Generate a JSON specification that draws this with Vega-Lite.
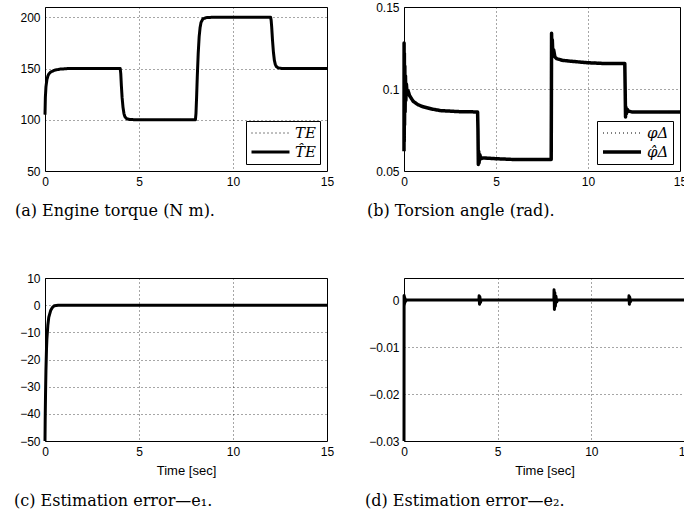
{
  "$schema": "https://vega.github.io/schema/vega-lite/v6.json",
  "padding": {"left": 13, "top": 0, "right": 0, "bottom": 0},
  "background": "white",
  "bounds": "flush",
  "columns": 2,
  "spacing": {"column": 77, "row": 107},
  "resolve": {
    "scale": {"strokeDash": "independent", "strokeWidth": "independent"},
    "legend": {"strokeDash": "independent", "strokeWidth": "independent"}
  },
  "config": {
    "view": {"stroke": "black", "strokeWidth": 1},
    "axis": {
      "grid": true, "gridColor": "#000", "gridDash": [1, 3], "gridOpacity": 0.7, "gridWidth": 1,
      "domain": false, "ticks": false, "labelFlush": false,
      "labelFont": "Liberation Sans", "labelFontSize": 12, "labelColor": "black",
      "titleFont": "Liberation Sans", "titleFontSize": 13, "titleFontWeight": "normal", "titleColor": "black"
    },
    "axisX": {"labelPadding": 5, "titlePadding": 7},
    "axisY": {"labelPadding": 5},
    "title": {"font": "DejaVu Serif", "fontSize": 16, "fontWeight": "normal", "color": "black", "orient": "bottom", "anchor": "start", "frame": "group"},
    "legend": {
      "orient": "bottom-right", "offset": 7, "title": null,
      "strokeColor": "black", "fillColor": "white", "padding": 4, "rowPadding": 3, "clipHeight": 16,
      "symbolType": "stroke", "symbolSize": 1444, "symbolStrokeColor": "black",
      "labelFont": "DejaVu Serif", "labelFontStyle": "italic", "labelFontSize": 15, "labelColor": "black"
    }
  },
  "datasets": {
    "torque": [
      {"t": 0, "v": 105, "s": "TE"}, {"t": 0.02, "v": 122, "s": "TE"}, {"t": 0.05, "v": 132, "s": "TE"}, {"t": 0.1, "v": 139, "s": "TE"}, {"t": 0.15, "v": 142.5, "s": "TE"}, {"t": 0.2, "v": 144.5, "s": "TE"}, {"t": 0.3, "v": 146.5, "s": "TE"}, {"t": 0.5, "v": 148.3, "s": "TE"}, {"t": 0.8, "v": 149.4, "s": "TE"}, {"t": 1.2, "v": 149.9, "s": "TE"}, {"t": 2, "v": 150, "s": "TE"}, {"t": 4, "v": 150, "s": "TE"}, {"t": 4.03, "v": 145, "s": "TE"}, {"t": 4.06, "v": 134, "s": "TE"}, {"t": 4.1, "v": 122, "s": "TE"}, {"t": 4.15, "v": 112, "s": "TE"}, {"t": 4.2, "v": 106, "s": "TE"}, {"t": 4.25, "v": 103, "s": "TE"}, {"t": 4.35, "v": 101, "s": "TE"}, {"t": 4.5, "v": 100.2, "s": "TE"}, {"t": 5, "v": 100, "s": "TE"}, {"t": 8, "v": 100, "s": "TE"}, {"t": 8.03, "v": 106, "s": "TE"}, {"t": 8.06, "v": 120, "s": "TE"}, {"t": 8.1, "v": 142, "s": "TE"}, {"t": 8.15, "v": 165, "s": "TE"}, {"t": 8.2, "v": 181, "s": "TE"}, {"t": 8.25, "v": 190, "s": "TE"}, {"t": 8.3, "v": 195, "s": "TE"}, {"t": 8.4, "v": 198.5, "s": "TE"}, {"t": 8.6, "v": 199.7, "s": "TE"}, {"t": 9, "v": 200, "s": "TE"}, {"t": 12, "v": 200, "s": "TE"}, {"t": 12.03, "v": 197, "s": "TE"}, {"t": 12.06, "v": 190, "s": "TE"}, {"t": 12.1, "v": 178, "s": "TE"}, {"t": 12.15, "v": 166, "s": "TE"}, {"t": 12.2, "v": 158, "s": "TE"}, {"t": 12.25, "v": 154, "s": "TE"}, {"t": 12.3, "v": 152, "s": "TE"}, {"t": 12.4, "v": 150.6, "s": "TE"}, {"t": 12.6, "v": 150, "s": "TE"}, {"t": 15, "v": 150, "s": "TE"},
      {"t": 0, "v": 105, "s": "T\u0302E"}, {"t": 0.02, "v": 122, "s": "T\u0302E"}, {"t": 0.05, "v": 132, "s": "T\u0302E"}, {"t": 0.1, "v": 139, "s": "T\u0302E"}, {"t": 0.15, "v": 142.5, "s": "T\u0302E"}, {"t": 0.2, "v": 144.5, "s": "T\u0302E"}, {"t": 0.3, "v": 146.5, "s": "T\u0302E"}, {"t": 0.5, "v": 148.3, "s": "T\u0302E"}, {"t": 0.8, "v": 149.4, "s": "T\u0302E"}, {"t": 1.2, "v": 149.9, "s": "T\u0302E"}, {"t": 2, "v": 150, "s": "T\u0302E"}, {"t": 4, "v": 150, "s": "T\u0302E"}, {"t": 4.03, "v": 145, "s": "T\u0302E"}, {"t": 4.06, "v": 134, "s": "T\u0302E"}, {"t": 4.1, "v": 122, "s": "T\u0302E"}, {"t": 4.15, "v": 112, "s": "T\u0302E"}, {"t": 4.2, "v": 106, "s": "T\u0302E"}, {"t": 4.25, "v": 103, "s": "T\u0302E"}, {"t": 4.35, "v": 101, "s": "T\u0302E"}, {"t": 4.5, "v": 100.2, "s": "T\u0302E"}, {"t": 5, "v": 100, "s": "T\u0302E"}, {"t": 8, "v": 100, "s": "T\u0302E"}, {"t": 8.03, "v": 106, "s": "T\u0302E"}, {"t": 8.06, "v": 120, "s": "T\u0302E"}, {"t": 8.1, "v": 142, "s": "T\u0302E"}, {"t": 8.15, "v": 165, "s": "T\u0302E"}, {"t": 8.2, "v": 181, "s": "T\u0302E"}, {"t": 8.25, "v": 190, "s": "T\u0302E"}, {"t": 8.3, "v": 195, "s": "T\u0302E"}, {"t": 8.4, "v": 198.5, "s": "T\u0302E"}, {"t": 8.6, "v": 199.7, "s": "T\u0302E"}, {"t": 9, "v": 200, "s": "T\u0302E"}, {"t": 12, "v": 200, "s": "T\u0302E"}, {"t": 12.03, "v": 197, "s": "T\u0302E"}, {"t": 12.06, "v": 190, "s": "T\u0302E"}, {"t": 12.1, "v": 178, "s": "T\u0302E"}, {"t": 12.15, "v": 166, "s": "T\u0302E"}, {"t": 12.2, "v": 158, "s": "T\u0302E"}, {"t": 12.25, "v": 154, "s": "T\u0302E"}, {"t": 12.3, "v": 152, "s": "T\u0302E"}, {"t": 12.4, "v": 150.6, "s": "T\u0302E"}, {"t": 12.6, "v": 150, "s": "T\u0302E"}, {"t": 15, "v": 150, "s": "T\u0302E"}
    ],
    "torsion": [
      {"t": 0, "v": 0.09, "s": "φΔ"}, {"t": 0.1, "v": 0.1, "s": "φΔ"}, {"t": 0.2, "v": 0.098, "s": "φΔ"}, {"t": 0.3, "v": 0.096, "s": "φΔ"}, {"t": 0.5, "v": 0.0925, "s": "φΔ"}, {"t": 0.75, "v": 0.0905, "s": "φΔ"}, {"t": 1, "v": 0.0893, "s": "φΔ"}, {"t": 1.5, "v": 0.0878, "s": "φΔ"}, {"t": 2, "v": 0.0868, "s": "φΔ"}, {"t": 3, "v": 0.0862, "s": "φΔ"}, {"t": 4, "v": 0.086, "s": "φΔ"}, {"t": 4.04, "v": 0.057, "s": "φΔ"}, {"t": 8, "v": 0.057, "s": "φΔ"}, {"t": 8.03, "v": 0.12, "s": "φΔ"}, {"t": 8.3, "v": 0.1185, "s": "φΔ"}, {"t": 9, "v": 0.117, "s": "φΔ"}, {"t": 12, "v": 0.1155, "s": "φΔ"}, {"t": 12.04, "v": 0.086, "s": "φΔ"}, {"t": 15, "v": 0.086, "s": "φΔ"},
      {"t": 0, "v": 0.062, "s": "φ\u0302Δ"}, {"t": 0.005, "v": 0.128, "s": "φ\u0302Δ"}, {"t": 0.012, "v": 0.068, "s": "φ\u0302Δ"}, {"t": 0.02, "v": 0.122, "s": "φ\u0302Δ"}, {"t": 0.03, "v": 0.078, "s": "φ\u0302Δ"}, {"t": 0.045, "v": 0.114, "s": "φ\u0302Δ"}, {"t": 0.06, "v": 0.086, "s": "φ\u0302Δ"}, {"t": 0.08, "v": 0.108, "s": "φ\u0302Δ"}, {"t": 0.1, "v": 0.093, "s": "φ\u0302Δ"}, {"t": 0.13, "v": 0.103, "s": "φ\u0302Δ"}, {"t": 0.17, "v": 0.097, "s": "φ\u0302Δ"}, {"t": 0.22, "v": 0.099, "s": "φ\u0302Δ"}, {"t": 0.3, "v": 0.096, "s": "φ\u0302Δ"}, {"t": 0.5, "v": 0.0925, "s": "φ\u0302Δ"}, {"t": 0.75, "v": 0.0905, "s": "φ\u0302Δ"}, {"t": 1, "v": 0.0893, "s": "φ\u0302Δ"}, {"t": 1.5, "v": 0.0878, "s": "φ\u0302Δ"}, {"t": 2, "v": 0.0868, "s": "φ\u0302Δ"}, {"t": 3, "v": 0.0862, "s": "φ\u0302Δ"}, {"t": 4, "v": 0.086, "s": "φ\u0302Δ"}, {"t": 4.02, "v": 0.075, "s": "φ\u0302Δ"}, {"t": 4.04, "v": 0.054, "s": "φ\u0302Δ"}, {"t": 4.06, "v": 0.062, "s": "φ\u0302Δ"}, {"t": 4.08, "v": 0.055, "s": "φ\u0302Δ"}, {"t": 4.12, "v": 0.06, "s": "φ\u0302Δ"}, {"t": 4.18, "v": 0.0575, "s": "φ\u0302Δ"}, {"t": 4.3, "v": 0.058, "s": "φ\u0302Δ"}, {"t": 5, "v": 0.0575, "s": "φ\u0302Δ"}, {"t": 6, "v": 0.057, "s": "φ\u0302Δ"}, {"t": 8, "v": 0.057, "s": "φ\u0302Δ"}, {"t": 8.01, "v": 0.09, "s": "φ\u0302Δ"}, {"t": 8.02, "v": 0.134, "s": "φ\u0302Δ"}, {"t": 8.04, "v": 0.12, "s": "φ\u0302Δ"}, {"t": 8.06, "v": 0.13, "s": "φ\u0302Δ"}, {"t": 8.09, "v": 0.121, "s": "φ\u0302Δ"}, {"t": 8.13, "v": 0.124, "s": "φ\u0302Δ"}, {"t": 8.2, "v": 0.1195, "s": "φ\u0302Δ"}, {"t": 8.3, "v": 0.1185, "s": "φ\u0302Δ"}, {"t": 8.6, "v": 0.1175, "s": "φ\u0302Δ"}, {"t": 9, "v": 0.117, "s": "φ\u0302Δ"}, {"t": 10, "v": 0.116, "s": "φ\u0302Δ"}, {"t": 11, "v": 0.1155, "s": "φ\u0302Δ"}, {"t": 12, "v": 0.1155, "s": "φ\u0302Δ"}, {"t": 12.02, "v": 0.1, "s": "φ\u0302Δ"}, {"t": 12.04, "v": 0.083, "s": "φ\u0302Δ"}, {"t": 12.06, "v": 0.089, "s": "φ\u0302Δ"}, {"t": 12.09, "v": 0.085, "s": "φ\u0302Δ"}, {"t": 12.14, "v": 0.0875, "s": "φ\u0302Δ"}, {"t": 12.2, "v": 0.0865, "s": "φ\u0302Δ"}, {"t": 12.4, "v": 0.086, "s": "φ\u0302Δ"}, {"t": 15, "v": 0.086, "s": "φ\u0302Δ"}
    ],
    "e1": [
      {"t": 0, "v": -50}, {"t": 0.01, "v": -42}, {"t": 0.03, "v": -32}, {"t": 0.05, "v": -24}, {"t": 0.08, "v": -16}, {"t": 0.1, "v": -12.5}, {"t": 0.15, "v": -7.5}, {"t": 0.2, "v": -4.5}, {"t": 0.3, "v": -2}, {"t": 0.4, "v": -0.8}, {"t": 0.5, "v": -0.2}, {"t": 0.7, "v": 0}, {"t": 15, "v": 0}
    ],
    "e2": [
      {"t": 0, "v": -0.03}, {"t": 0.005, "v": 0.001}, {"t": 0.01, "v": -0.0012}, {"t": 0.02, "v": 0.0008}, {"t": 0.03, "v": -0.0008}, {"t": 0.05, "v": 0.0004}, {"t": 0.08, "v": -0.0003}, {"t": 0.12, "v": 0}, {"t": 4, "v": 0}, {"t": 4.01, "v": 0.0009}, {"t": 4.03, "v": -0.0009}, {"t": 4.05, "v": 0.0007}, {"t": 4.08, "v": -0.0005}, {"t": 4.12, "v": 0}, {"t": 8, "v": 0}, {"t": 8.01, "v": 0.0022}, {"t": 8.03, "v": -0.002}, {"t": 8.05, "v": 0.0016}, {"t": 8.08, "v": -0.0013}, {"t": 8.11, "v": 0.0008}, {"t": 8.15, "v": -0.0004}, {"t": 8.2, "v": 0}, {"t": 12, "v": 0}, {"t": 12.01, "v": 0.0009}, {"t": 12.03, "v": -0.0009}, {"t": 12.05, "v": 0.0006}, {"t": 12.08, "v": -0.0004}, {"t": 12.12, "v": 0}, {"t": 15, "v": 0}
    ]
  },
  "concat": [
    {
      "width": 282, "height": 164,
      "title": {"text": "(a) Engine torque (N m).", "dx": -30, "offset": 16},
      "data": {"name": "torque"},
      "mark": {"type": "line", "color": "black", "strokeJoin": "round"},
      "encoding": {
        "x": {"field": "t", "type": "quantitative", "scale": {"domain": [0, 15], "nice": false}, "axis": {"values": [0, 5, 10, 15], "title": null}},
        "y": {"field": "v", "type": "quantitative", "scale": {"domain": [50, 210], "nice": false, "zero": false}, "axis": {"values": [50, 100, 150, 200], "title": null}},
        "strokeDash": {"field": "s", "type": "ordinal", "scale": {"domain": ["TE", "T\u0302E"], "range": [[1, 3], [1, 0]]}},
        "strokeWidth": {"field": "s", "type": "ordinal", "scale": {"type": "ordinal", "domain": ["TE", "T\u0302E"], "range": [1, 3]}}
      }
    },
    {
      "width": 276, "height": 164,
      "title": {"text": "(b) Torsion angle (rad).", "dx": -37, "offset": 16},
      "data": {"name": "torsion"},
      "mark": {"type": "line", "color": "black", "strokeJoin": "round"},
      "encoding": {
        "x": {"field": "t", "type": "quantitative", "scale": {"domain": [0, 15], "nice": false}, "axis": {"values": [0, 5, 10, 15], "title": null}},
        "y": {"field": "v", "type": "quantitative", "scale": {"domain": [0.05, 0.15], "nice": false, "zero": false}, "axis": {"values": [0.05, 0.1, 0.15], "format": ".2~f", "title": null}},
        "strokeDash": {"field": "s", "type": "ordinal", "scale": {"domain": ["φΔ", "φ\u0302Δ"], "range": [[1, 3], [1, 0]]}},
        "strokeWidth": {"field": "s", "type": "ordinal", "scale": {"type": "ordinal", "domain": ["φΔ", "φ\u0302Δ"], "range": [1, 3.5]}}
      }
    },
    {
      "width": 282, "height": 163,
      "title": {"text": "(c) Estimation error—e₁.", "dx": -31, "offset": 16},
      "data": {"name": "e1"},
      "mark": {"type": "line", "color": "black", "strokeWidth": 3, "strokeJoin": "round"},
      "encoding": {
        "x": {"field": "t", "type": "quantitative", "scale": {"domain": [0, 15], "nice": false}, "axis": {"values": [0, 5, 10, 15], "title": "Time [sec]"}},
        "y": {"field": "v", "type": "quantitative", "scale": {"domain": [-50, 10], "nice": false, "zero": false}, "axis": {"values": [-50, -40, -30, -20, -10, 0, 10], "title": null}}
      }
    },
    {
      "width": 281, "height": 163,
      "title": {"text": "(d) Estimation error—e₂.", "dx": -39, "offset": 16},
      "data": {"name": "e2"},
      "mark": {"type": "line", "color": "black", "strokeWidth": 3, "strokeJoin": "round"},
      "encoding": {
        "x": {"field": "t", "type": "quantitative", "scale": {"domain": [0, 15], "nice": false}, "axis": {"values": [0, 5, 10, 15], "title": "Time [sec]"}},
        "y": {"field": "v", "type": "quantitative", "scale": {"domain": [-0.03, 0.0047], "nice": false, "zero": false}, "axis": {"values": [-0.03, -0.02, -0.01, 0], "format": ".2~f", "title": null}}
      }
    }
  ]
}
